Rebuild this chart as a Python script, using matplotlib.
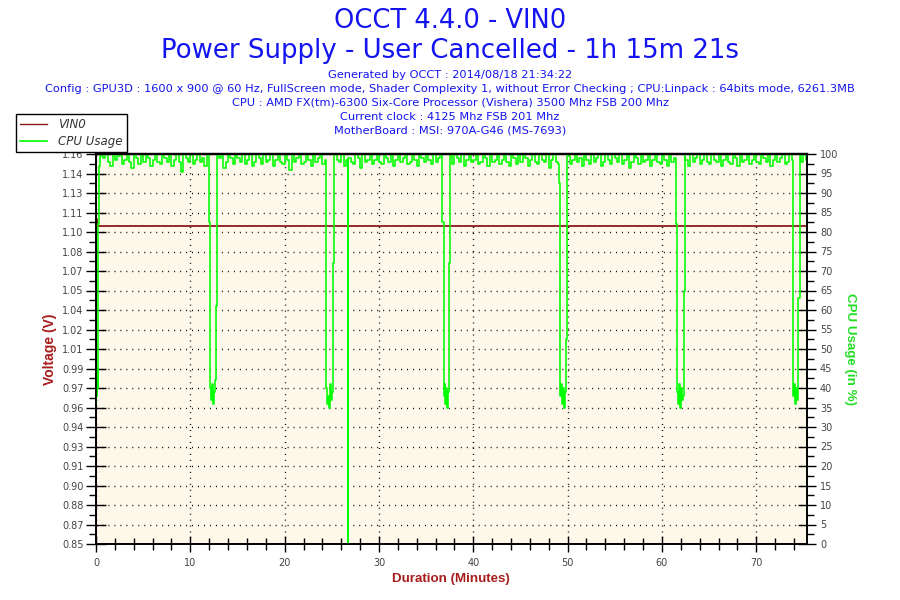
import numpy as np
import matplotlib
matplotlib.use('Agg')
import matplotlib.pyplot as plt
from matplotlib.lines import Line2D

# Тексти
title_main = 'OCCT 4.4.0 - VIN0'
title_sub = 'Power Supply - User Cancelled - 1h 15m 21s'
info_lines = [
    'Generated by OCCT : 2014/08/18 21:34:22',
    'Config : GPU3D : 1600 x 900 @ 60 Hz, FullScreen mode, Shader Complexity 1, without Error Checking ; CPU:Linpack : 64bits mode, 6261.3MB',
    'CPU : AMD FX(tm)-6300 Six-Core Processor (Vishera) 3500 Mhz FSB 200 Mhz',
    'Current clock : 4125 Mhz FSB 201 Mhz',
    'MotherBoard : MSI: 970A-G46 (MS-7693)',
]

# Осі
duration_min = 75.35
volt_ticks = [0.85, 0.8655, 0.881, 0.8965, 0.912, 0.9275, 0.943, 0.9585, 0.974, 0.9895,
              1.005, 1.0205, 1.036, 1.0515, 1.067, 1.0825, 1.098, 1.1135, 1.129, 1.1445, 1.16]
volt_labels = ['0.85', '0.87', '0.88', '0.90', '0.91', '0.93', '0.94', '0.96', '0.97', '0.99',
               '1.01', '1.02', '1.04', '1.05', '1.07', '1.08', '1.10', '1.11', '1.13', '1.14', '1.16']
cpu_ticks = list(range(0, 101, 5))
time_ticks = [0, 10, 20, 30, 40, 50, 60, 70]

# Напруга VIN0
volt_t = [0.0, 0.03, 0.06, 75.35]
volt_v = [0.90, 1.108, 1.103, 1.103]

# Завантаження CPU: плато (крок 0.25 хв)
plateau_step = 0.25
plateau_v = [
    98.5, 100, 97.5, 99, 100, 98, 97, 100, 98.5, 99.5, 100, 97.5, 98.5, 100, 98, 96.5, 100, 99, 97.5, 100,
    98, 100, 99, 97, 98.5, 100, 98, 97.5, 100, 99, 98, 100, 97, 98.5, 100, 98, 95.5, 100, 99, 98,
    100, 97.5, 98.5, 100, 98, 99, 97, 100, 98.5, 97.5, 100, 98, 99, 100, 96.5, 98, 100, 99, 97.5, 100,
    99, 98, 100, 97.5, 98.5, 100, 97, 98, 100, 99, 97.5, 100, 98, 98.5, 100, 97, 98.5, 100, 98, 97.5,
    100, 98.5, 96, 100, 98, 99, 100, 97.5, 98, 100, 98.5, 97, 100, 98, 99, 100, 97.5, 98.5, 100, 98,
    97.5, 100, 98.5, 98, 100, 97, 98.5, 100, 98, 97.5, 100, 99, 96.5, 100, 98, 98.5, 100, 97.5, 98.5, 100,
    98, 97.5, 100, 99, 98, 100, 97, 98.5, 100, 98, 99, 100, 97.5, 98, 100, 98.5, 97, 100, 99, 98,
    100, 98.5, 97.5, 100, 98, 99, 100, 96, 98.5, 100, 98, 97.5, 100, 99, 98, 100, 97, 98.5, 100, 98,
    98.5, 100, 97.5, 98, 100, 99, 97, 100, 98, 98.5, 100, 97.5, 98.5, 100, 98, 97, 100, 99, 97.5, 100,
    98, 100, 99, 97, 98.5, 100, 98, 97.5, 100, 98.5, 98, 100, 96.5, 98.5, 100, 98, 97.5, 100, 99, 98,
    100, 97.5, 98.5, 100, 98, 99, 97, 100, 98.5, 97.5, 100, 98, 99, 100, 97, 98, 100, 98.5, 97.5, 100,
    99, 98, 100, 97.5, 98.5, 100, 96.5, 98, 100, 99, 97.5, 100, 98, 98.5, 100, 97, 98.5, 100, 98, 97.5,
    100, 98.5, 97, 100, 98, 99, 100, 97.5, 98, 100, 98.5, 97, 100, 98, 99, 100, 97.5, 98.5, 100, 98,
    97.5, 100, 98.5, 98, 100, 97, 98.5, 100, 98, 97.5, 100, 99, 97, 100, 98, 98.5, 100, 97.5, 98.5, 100,
    98, 97.5, 100, 99, 98, 100, 97, 98.5, 100, 98, 99, 100, 97.5, 98, 100, 98.5, 97, 100, 99, 98,
    100, 98.5,
]

# Провали навантаження: (початок, кінець, часи, значення)
cpu_dips = [
    (0.0, 0.5, [0.0, 0.05, 0.1, 0.15, 0.2, 0.25, 0.35, 0.45],
     [36, 42, 38, 45, 40, 82, 97, 99.5]),
    (12.0, 12.87, [12.0, 12.1, 12.2, 12.3, 12.4, 12.5, 12.6, 12.7, 12.87],
     [82.5, 40, 37, 41, 36, 39, 42, 61, 99.5]),
    (24.4, 25.2, [24.4, 24.5, 24.6, 24.7, 24.8, 24.9, 25.0, 25.1, 25.2],
     [40, 36, 38, 35, 41, 37, 39, 72, 99.5]),
    (26.68, 26.76, [26.68, 26.72, 26.76], [0, 50, 99]),
    (36.7, 37.58, [36.7, 36.85, 36.95, 37.05, 37.15, 37.25, 37.35, 37.45, 37.58],
     [82.5, 38, 41, 36, 40, 35, 39, 72, 99.5]),
    (49.1, 49.95, [49.1, 49.2, 49.3, 49.4, 49.5, 49.6, 49.7, 49.8, 49.95],
     [92.5, 38, 41, 36, 40, 35, 39, 52.5, 99.5]),
    (61.5, 62.42, [61.5, 61.6, 61.7, 61.8, 61.9, 62.0, 62.1, 62.2, 62.3, 62.42],
     [82, 39, 36, 41, 35, 40, 37, 38, 65, 99.5]),
    (73.85, 74.6, [73.85, 73.95, 74.05, 74.15, 74.25, 74.35, 74.45, 74.6],
     [82.5, 38, 41, 36, 40, 37, 63, 99.5]),
]

# Збирання ряду CPU
plateau_t = np.arange(len(plateau_v)) * plateau_step
keep = np.ones(len(plateau_t), dtype=bool)
for start, end, _, _ in cpu_dips:
    keep &= ~((plateau_t >= start) & (plateau_t <= end))
cpu_t = list(plateau_t[keep])
cpu_v = list(np.array(plateau_v)[keep])
for _, _, ts, vs in cpu_dips:
    cpu_t += ts
    cpu_v += vs
cpu_t.append(duration_min)
cpu_v.append(99.5)
order = np.argsort(cpu_t)
cpu_t = np.array(cpu_t)[order]
cpu_v = np.array(cpu_v)[order]

# Кольори
blue = '#1414f0'
volt_color = '#8b1a1a'
volt_label_color = '#a81c1c'
cpu_color = '#00ff00'
cpu_label_color = '#22dd22'
tick_color = '#444444'
bg_color = '#fdf8ea'

fig = plt.figure(figsize=(9, 6), dpi=100)
ax = fig.add_axes([96 / 900, 1 - 544 / 600, (806.7 - 96) / 900, (544 - 154) / 600])
ax.set_facecolor(bg_color)

ax.plot(volt_t, volt_v, color=volt_color, lw=1.3, drawstyle='steps-post')
ax.set_xlim(0, duration_min)
ax.set_ylim(0.85, 1.16)
ax.set_yticks(volt_ticks)
ax.set_yticklabels(volt_labels)
ax.set_yticks([(a + b) / 2 for a, b in zip(volt_ticks[:-1], volt_ticks[1:])], minor=True)
ax.set_xticks(time_ticks)
ax.set_xticks(np.arange(0, 76, 2), minor=True)

ax.grid(True, which='major', color='black', lw=1, linestyle=(0, (0.7, 3.6)))

ax.tick_params(axis='y', which='major', direction='inout', length=14, width=1,
               labelsize=7, labelcolor=tick_color, pad=2)
ax.tick_params(axis='y', which='minor', direction='out', length=5, width=1)
ax.tick_params(axis='x', which='major', direction='inout', length=12, width=1,
               labelsize=7, labelcolor=tick_color, pad=4)
ax.tick_params(axis='x', which='minor', direction='inout', length=8, width=1)

ax2 = ax.twinx()
ax2.plot(cpu_t, cpu_v, color=cpu_color, lw=1.15, drawstyle='steps-post')
ax2.set_ylim(0, 100)
ax2.set_xlim(0, duration_min)
ax2.set_yticks(cpu_ticks)
ax2.set_yticks(np.arange(2.5, 100, 5), minor=True)
ax2.tick_params(axis='y', which='major', direction='inout', length=13, width=1,
                labelsize=7, labelcolor=tick_color, pad=3)
ax2.tick_params(axis='y', which='minor', direction='out', length=5, width=1)

for a in (ax, ax2):
    for s in a.spines.values():
        s.set_color('black')
        s.set_linewidth(1.2)
    a.spines['top'].set_linewidth(1.6)

label_font = ['DejaVu Sans Condensed', 'Liberation Sans Narrow', 'Liberation Sans']
fig.text(50 / 900, 1 - 349 / 600, 'Voltage (V)', rotation=90, ha='center', va='center',
         fontsize=10, fontweight='bold', color=volt_label_color, family=label_font)
fig.text(850 / 900, 1 - 349 / 600, 'CPU Usage (in %)', rotation=270, ha='center', va='center',
         fontsize=9.6, fontweight='bold', color=cpu_label_color, family=label_font)
fig.text(451 / 900, 1 - 579 / 600, 'Duration (Minutes)', ha='center', va='center',
         fontsize=9.6, fontweight='bold', color=volt_label_color, family=label_font)

# Заголовки
fig.text(0.5, 1 - 21 / 600, title_main, ha='center', va='center', fontsize=18.5, color=blue)
fig.text(0.5, 1 - 51 / 600, title_sub, ha='center', va='center', fontsize=18.7, color=blue)
for i, line in enumerate(info_lines):
    fig.text(0.5, 1 - (75.5 + i * 13.7) / 600, line, ha='center', va='center',
             fontsize=8.2, color=blue)

handles = [Line2D([], [], color=volt_color, lw=1), Line2D([], [], color=cpu_color, lw=1.2)]
leg = fig.legend(handles, ['VIN0', 'CPU Usage'], loc='upper left',
                 bbox_to_anchor=(16 / 900, 1 - 114 / 600), frameon=True, fancybox=False,
                 edgecolor='black', framealpha=1, handlelength=2.3, handletextpad=0.9,
                 borderpad=0.35, labelspacing=0.35, borderaxespad=0,
                 prop={'style': 'italic', 'size': 8.5})
leg.get_frame().set_linewidth(1)
for t in leg.get_texts():
    t.set_color('#333333')

fig.savefig('out.png', dpi=100)
